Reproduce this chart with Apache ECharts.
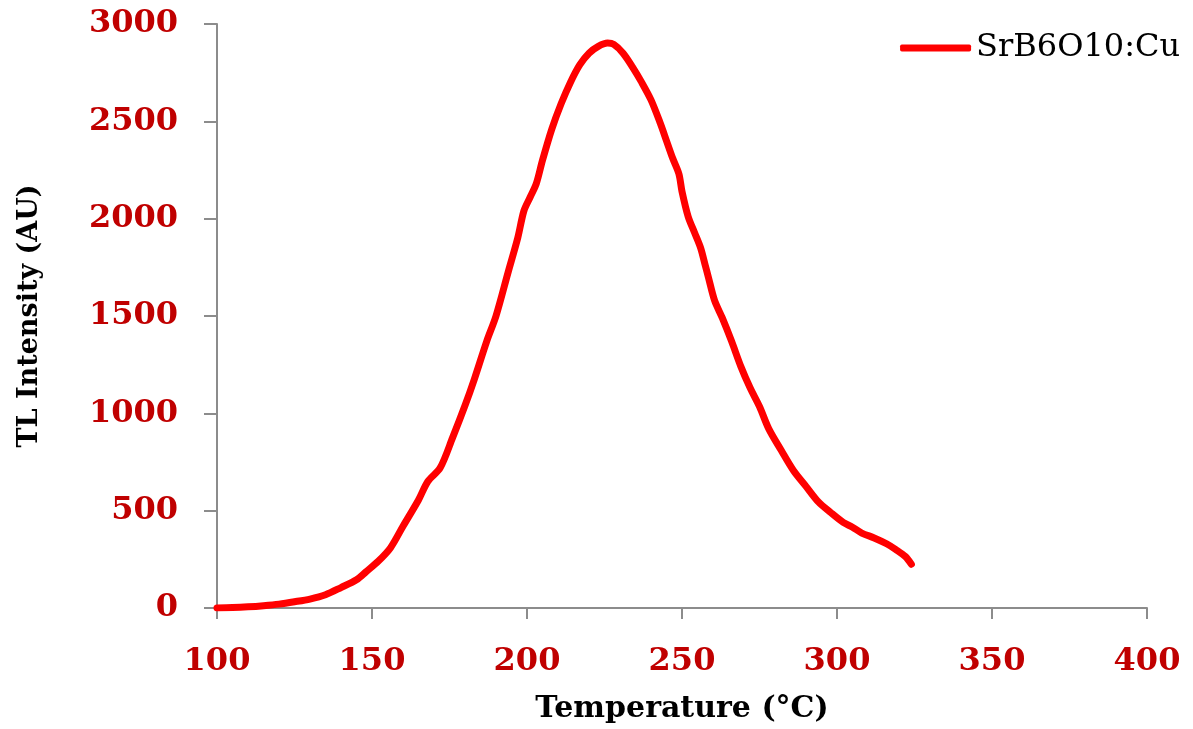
<!DOCTYPE html>
<html>
<head>
<meta charset="utf-8">
<script src="https://cdn.jsdelivr.net/npm/echarts@6/dist/echarts.min.js"></script>
<style>
  html, body { margin: 0; padding: 0; background: #fff; }
  #tlChart { width: 1193px; height: 729px; }
</style>
</head>
<body>
<div id="tlChart"></div>
<script>
// glow curve
const temperature = [100, 105, 110, 115, 120, 125, 130, 135, 140, 145, 148, 152, 156, 160, 165, 168, 172, 176, 180, 183, 187, 190, 194, 197, 199, 201, 203, 205, 208, 211, 214, 217, 220, 223, 226, 228, 231, 234, 237, 240, 243, 245, 247, 249, 250, 252, 254, 256, 257.5, 258.5, 260.5, 263, 266, 269, 272, 275, 278, 282, 286, 290, 294, 298, 302, 305, 308, 312, 316, 319, 322, 324]
const intensity = [0, 2, 6, 12, 20, 32, 46, 68, 105, 145, 185, 240, 310, 420, 555, 650, 720, 875, 1040, 1175, 1370, 1500, 1730, 1900, 2040, 2110, 2180, 2300, 2460, 2590, 2700, 2790, 2850, 2885, 2902, 2895, 2850, 2780, 2700, 2610, 2490, 2400, 2310, 2230, 2140, 2010, 1930, 1850, 1760, 1700, 1580, 1490, 1370, 1240, 1130, 1035, 920, 810, 705, 625, 545, 490, 440, 415, 385, 360, 330, 300, 265, 225]
const seriesName = 'SrB6O10:Cu'

const labelColor = '#c00000'
const axisGray = '#8c8c8c'
const serif = '"DejaVu Serif", "Liberation Serif", serif'

let points = temperature.map((t, i) => [t, intensity[i]])

let option = {
  backgroundColor: '#fff',
  animation: false,
  grid: {
    left: 217,
    right: 46,
    top: 24,
    bottom: 121
  },
  legend: {
    right: 8,
    top: 27,
    icon: 'roundRect',
    itemWidth: 71,
    itemHeight: 7,
    itemGap: 4,
    data: [seriesName],
    itemStyle: { color: '#ff0000' },
    textStyle: {
      fontFamily: serif,
      fontSize: 32,
      color: '#000'
    }
  },
  xAxis: {
    type: 'value',
    min: 100,
    max: 400,
    interval: 50,
    name: 'Temperature (°C)',
    nameLocation: 'middle',
    nameGap: 86,
    nameTextStyle: {
      fontFamily: serif,
      fontWeight: 'bold',
      fontSize: 30,
      color: '#000'
    },
    axisLine: { lineStyle: { color: axisGray, width: 2 } },
    axisTick: { show: true, length: 11, lineStyle: { color: axisGray, width: 2 } },
    axisLabel: {
      margin: 38,
      fontFamily: serif,
      fontWeight: 'bold',
      fontSize: 32,
      color: labelColor,
      formatter: v => String(v)
    },
    splitLine: { show: false }
  },
  yAxis: {
    type: 'value',
    min: 0,
    max: 3000,
    interval: 500,
    name: 'TL Intensity (AU)',
    nameLocation: 'middle',
    nameGap: 174,
    nameTextStyle: {
      fontFamily: serif,
      fontWeight: 'bold',
      fontSize: 27,
      color: '#000'
    },
    axisLine: { show: true, lineStyle: { color: axisGray, width: 2 } },
    axisTick: { show: true, length: 13, lineStyle: { color: axisGray, width: 2 } },
    axisLabel: {
      margin: 39,
      fontFamily: serif,
      fontWeight: 'bold',
      fontSize: 32,
      color: labelColor,
      formatter: v => String(v)
    },
    splitLine: { show: false }
  },
  series: [
    {
      name: seriesName,
      type: 'line',
      data: points,
      smooth: 0.3,
      showSymbol: false,
      symbol: 'none',
      color: '#ff0000',
      lineStyle: { color: '#ff0000', width: 7, cap: 'round', join: 'round' }
    }
  ]
}

let myChart = echarts.init(document.getElementById('tlChart'))
myChart.setOption(option)
</script>
</body>
</html>
